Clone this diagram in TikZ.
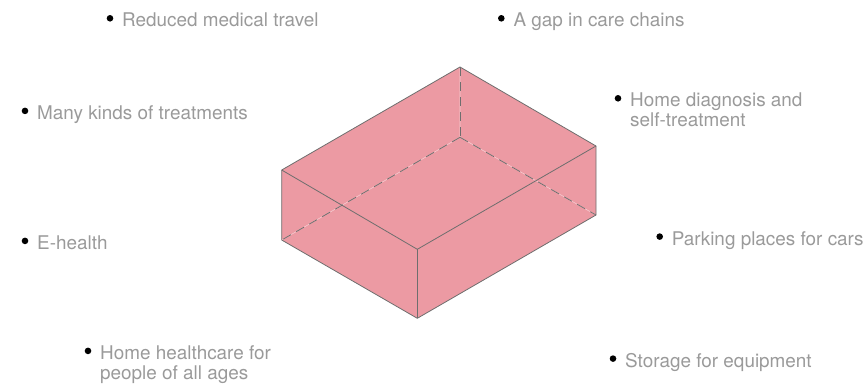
\documentclass[tikz,border=0pt]{standalone}
\usepackage{fontspec}
\setmainfont{TeX Gyre Heros}
\usetikzlibrary{calc}
\definecolor{cBox}{HTML}{EC9AA3}
\definecolor{cEdge}{HTML}{6E6E6E}
\definecolor{cHidden}{HTML}{F4CBD0}
\definecolor{cText}{HTML}{9A9A9A}

\tikzset{
    item/.style={anchor=base west, inner sep=0pt, align=left, text=cText,
        font=\fontsize{18.9}{20}\selectfont},
    edge/.style={cEdge, line width=0.8pt, line join=round},
    hidden/.style={cEdge, line width=0.8pt, dash pattern=on 9pt off 6pt}
}

\begin{document}
\begin{tikzpicture}[x=1pt, y=-1pt]
\useasboundingbox (0,0) rectangle (866,389);

% Box corners
\coordinate (tb) at (460,67);
\coordinate (tl) at (281.7,170);
\coordinate (tr) at (596,146);
\coordinate (tf) at (417.3,249.3);
\coordinate (bl) at (281.7,240);
\coordinate (bf) at (417.3,318.3);
\coordinate (br) at (596,215);
\coordinate (bb) at (460,137.3);

% Box body
\fill[cBox] (tl) -- (tb) -- (tr) -- (br) -- (bf) -- (bl) -- cycle;

% Hidden edges
\draw[cHidden, line width=0.6pt] (tb) -- (bb) (bl) -- (bb) -- (br);
\draw[hidden] (tb) -- (bb);
\draw[hidden] (bb) -- (bl);
\draw[hidden] (bb) -- (br);

% Visible edges
\draw[edge] (tl) -- (tb) -- (tr) -- (tf) -- cycle;
\draw[edge] (tl) -- (bl) -- (bf) -- (br) -- (tr);
\draw[edge] (tf) -- (bf);

% Items (two-line items sit on their last line)
\node[item] (travel) at (122,26.7) {Reduced medical travel};
\node[item] (gap) at (513.3,26.7) {A gap in care chains};
\node[item] (kinds) at (37,119.3) {Many kinds of treatments};
\node[item] (diag) at (630,126.7) {Home diagnosis and\\self-treatment};
\node[item] (ehealth) at (37,249.3) {E-health};
\node[item] (parking) at (671.7,245) {Parking places for cars};
\node[item] (homecare) at (100,379.3) {Home healthcare for\\people of all ages};
\node[item] (storage) at (625,367) {Storage for equipment};

% Bullets
\foreach \n/\d in {travel/0, gap/0, kinds/0, diag/20, ehealth/0, parking/0, homecare/20, storage/0} {
    \fill ($(\n.base west)+(-12,-8.4-\d)$) circle (3.3pt);
}

\end{tikzpicture}
\end{document}
